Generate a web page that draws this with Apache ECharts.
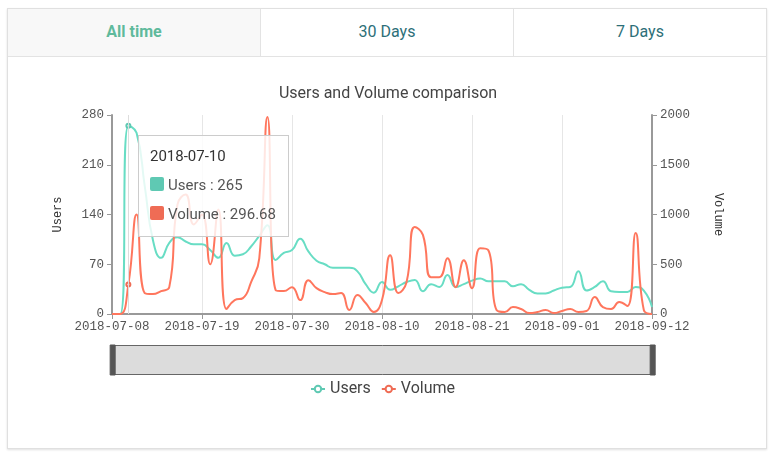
<!DOCTYPE html>
<html lang="en">
<head>
    <meta charset="UTF-8">
    <title>Users and Volume</title>
    <script src="https://cdn.jsdelivr.net/npm/echarts@6/dist/echarts.min.js"></script>
    <style>
        body { margin: 0; background: #fff; font-family: Roboto, sans-serif; }
        #card {
            position: absolute; left: 7px; top: 8px; width: 758px; height: 439px;
            border: 1px solid #e0e0e0; box-shadow: 0 1px 2px rgba(0,0,0,0.12);
        }
        #tabs { display: flex; height: 47px; border-bottom: 1px solid #e3e3e3; }
        .tab { flex: 1; text-align: center; line-height: 46px; font-size: 16px; color: #2d6f78; }
        .tab + .tab { border-left: 1px solid #e3e3e3; }
        .tab.active { background: #f8f8f8; color: #5fba9c; font-weight: bold; }
        #main { position: absolute; left: 0; top: 0; width: 776px; height: 459px; z-index: 1; }
    </style>
</head>
<body>
    <div id="card">
        <div id="tabs">
            <div class="tab active">All time</div>
            <div class="tab">30 Days</div>
            <div class="tab">7 Days</div>
        </div>
    </div>
    <div id="main"></div>
<script type="text/javascript">
    // dates 2018-07-08 .. 2018-09-12
    var dates = [];
    var d0 = Date.UTC(2018, 6, 8);
    for (var i = 0; i < 67; i++) {
        dates.push(new Date(d0 + i * 86400000).toISOString().slice(0, 10));
    }

    var users = [0, 0, 265, 255, 180, 104, 79, 100, 108, 102,
        98, 98, 90, 79, 100, 82, 84, 95, 110, 125,
        76, 86, 90, 106, 88, 75, 70, 65, 65, 65,
        60, 42, 30, 45, 34, 39, 45, 48, 32, 42,
        38, 55, 38, 42, 47, 50, 46, 46, 46, 39,
        42, 34, 29, 29, 33, 37, 38, 60, 33, 38,
        46, 32, 31, 31, 38, 33, 10];

    var volume = [0, 0, 296.68, 1000, 210, 200, 230, 270, 1100, 1200,
        900, 1000, 500, 1050, 50, 140, 160, 320, 560, 1980,
        240, 230, 270, 140, 340, 260, 220, 200, 210, 40,
        190, 110, 20, 140, 590, 210, 320, 875, 795, 370,
        370, 560, 270, 540, 260, 660, 640, 40, 20, 70,
        50, 10, 20, 40, 10, 30, 50, 20, 30, 170,
        70, 50, 120, 80, 815, 40, 0];

    var usersTicks = [0, 280, 70];
    var volumeTicks = [0, 2000, 500];

    var monoFont = 'Liberation Mono, monospace';
    var monoLabel = { fontFamily: monoFont, fontSize: 12.5, color: '#555' };

    var chart = echarts.init(document.getElementById('main'));
    chart.setOption({
        animation: false,
        color: ['#5fc9b3', '#ef6c55'],
        title: {
            text: 'Users and Volume comparison',
            left: 'center',
            top: 81,
            textStyle: { fontFamily: 'Roboto', fontSize: 16, fontWeight: 'normal', color: '#444' }
        },
        tooltip: {
            trigger: 'axis',
            alwaysShowContent: true,
            position: [138, 135],
            backgroundColor: 'rgba(255,255,255,0.82)',
            borderColor: '#ccc',
            borderWidth: 1,
            padding: [6, 12, 7, 11],
            extraCssText: 'box-shadow:none;border-radius:0;',
            axisPointer: { lineStyle: { color: '#ddd', width: 1, type: 'solid' } },
            formatter: function (params) {
                var s = '<div style="font-family:Roboto;font-size:15px;color:#333;line-height:29px">' + params[0].axisValue + '</div>';
                params.forEach(function (p) {
                    s += '<div style="font-family:Roboto;font-size:15px;color:#555;line-height:29px">' +
                        '<span style="display:inline-block;width:14px;height:14px;border-radius:2px;margin-right:4px;vertical-align:-1px;background:' +
                        p.color + '"></span>' + p.seriesName + ' : ' + p.value + '</div>';
                });
                return s;
            }
        },
        legend: {
            data: ['Users', 'Volume'],
            left: 305,
            top: 376,
            itemWidth: 14,
            itemHeight: 8,
            itemGap: 10,
            textStyle: { fontFamily: 'Roboto', fontSize: 16, color: '#444' }
        },
        grid: { left: 112, right: 124, top: 115, bottom: 145 },
        dataZoom: [{
            type: 'slider',
            start: 0,
            end: 100,
            left: 111,
            right: 123,
            top: 345,
            height: 30,
            showDetail: false,
            showDataShadow: false,
            brushSelect: false,
            moveHandleSize: 0,
            backgroundColor: 'rgba(0,0,0,0)',
            fillerColor: '#dcdcdc',
            borderColor: '#666',
            borderRadius: 0,
            handleIcon: 'path://M0,0 L5,0 L5,30 L0,30 Z',
            handleSize: '100%',
            handleStyle: { color: '#555', borderColor: '#555' }
        }],
        xAxis: {
            type: 'category',
            boundaryGap: false,
            data: dates,
            axisLine: { lineStyle: { color: '#999', width: 2 } },
            axisTick: { interval: 10, length: 5, lineStyle: { color: '#999' } },
            axisLabel: Object.assign({ interval: 10, margin: 6 }, monoLabel),
            splitLine: { show: true, interval: 10, lineStyle: { color: '#e6e6e6' } }
        },
        yAxis: [{
            type: 'value',
            name: 'Users',
            nameLocation: 'middle',
            nameGap: 48,
            nameTextStyle: { fontFamily: monoFont, fontSize: 12, color: '#333' },
            min: usersTicks[0],
            max: usersTicks[1],
            interval: usersTicks[2],
            axisLine: { show: true, lineStyle: { color: '#999', width: 2 } },
            axisTick: { show: true, length: 5, lineStyle: { color: '#999' } },
            axisLabel: Object.assign({ margin: 8 }, monoLabel),
            splitLine: { show: false }
        }, {
            type: 'value',
            name: 'Volume',
            nameLocation: 'middle',
            nameGap: 60,
            nameRotate: -90,
            nameTextStyle: { fontFamily: monoFont, fontSize: 12, color: '#333' },
            min: volumeTicks[0],
            max: volumeTicks[1],
            interval: volumeTicks[2],
            axisLine: { show: true, lineStyle: { color: '#999', width: 2 } },
            axisTick: { show: true, length: 5, lineStyle: { color: '#999' } },
            axisLabel: Object.assign({ margin: 8, formatter: function (v) { return String(v); } }, monoLabel),
            splitLine: { show: false }
        }],
        series: [{
            name: 'Users',
            type: 'line',
            smooth: true,
            showSymbol: false,
            symbolSize: 4,
            emphasis: { scale: false },
            yAxisIndex: 0,
            lineStyle: { width: 2 },
            data: users
        }, {
            name: 'Volume',
            type: 'line',
            smooth: true,
            showSymbol: false,
            symbolSize: 4,
            emphasis: { scale: false },
            yAxisIndex: 1,
            lineStyle: { width: 2 },
            data: volume
        }]
    });
    chart.dispatchAction({ type: 'showTip', seriesIndex: 0, dataIndex: 2 });
</script>
</body>
</html>
